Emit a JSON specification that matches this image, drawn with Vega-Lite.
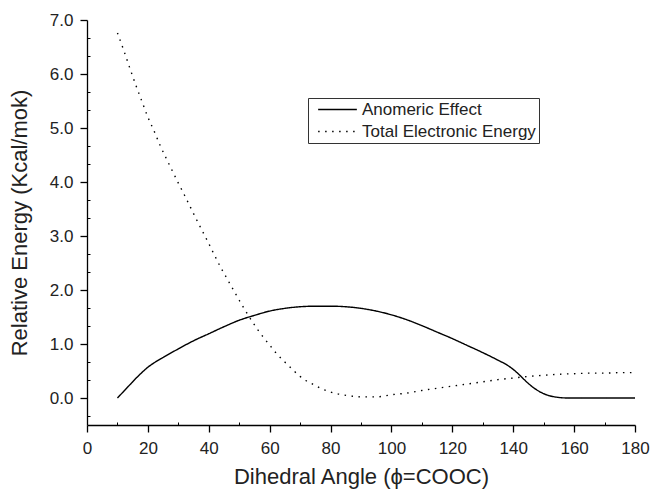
{
  "$schema": "https://vega.github.io/schema/vega-lite/v6.json",
  "width": 548,
  "height": 405,
  "autosize": {"type": "none"},
  "padding": {"left": 87, "top": 20, "right": 17, "bottom": 65},
  "background": "white",
  "config": {"view": {"stroke": null}, "font": "Liberation Sans"},
  "datasets": {
    "curves": [
      {"angle": 10, "energy": 0.00, "series": "Anomeric Effect"},
      {"angle": 12, "energy": 0.12, "series": "Anomeric Effect"},
      {"angle": 14, "energy": 0.24, "series": "Anomeric Effect"},
      {"angle": 16, "energy": 0.36, "series": "Anomeric Effect"},
      {"angle": 18, "energy": 0.47, "series": "Anomeric Effect"},
      {"angle": 20, "energy": 0.57, "series": "Anomeric Effect"},
      {"angle": 22, "energy": 0.65, "series": "Anomeric Effect"},
      {"angle": 25, "energy": 0.75, "series": "Anomeric Effect"},
      {"angle": 30, "energy": 0.91, "series": "Anomeric Effect"},
      {"angle": 35, "energy": 1.06, "series": "Anomeric Effect"},
      {"angle": 40, "energy": 1.19, "series": "Anomeric Effect"},
      {"angle": 45, "energy": 1.32, "series": "Anomeric Effect"},
      {"angle": 50, "energy": 1.44, "series": "Anomeric Effect"},
      {"angle": 55, "energy": 1.53, "series": "Anomeric Effect"},
      {"angle": 60, "energy": 1.61, "series": "Anomeric Effect"},
      {"angle": 65, "energy": 1.66, "series": "Anomeric Effect"},
      {"angle": 70, "energy": 1.69, "series": "Anomeric Effect"},
      {"angle": 75, "energy": 1.70, "series": "Anomeric Effect"},
      {"angle": 80, "energy": 1.70, "series": "Anomeric Effect"},
      {"angle": 85, "energy": 1.69, "series": "Anomeric Effect"},
      {"angle": 90, "energy": 1.66, "series": "Anomeric Effect"},
      {"angle": 95, "energy": 1.61, "series": "Anomeric Effect"},
      {"angle": 100, "energy": 1.54, "series": "Anomeric Effect"},
      {"angle": 105, "energy": 1.45, "series": "Anomeric Effect"},
      {"angle": 110, "energy": 1.34, "series": "Anomeric Effect"},
      {"angle": 115, "energy": 1.22, "series": "Anomeric Effect"},
      {"angle": 120, "energy": 1.10, "series": "Anomeric Effect"},
      {"angle": 125, "energy": 0.97, "series": "Anomeric Effect"},
      {"angle": 130, "energy": 0.84, "series": "Anomeric Effect"},
      {"angle": 135, "energy": 0.70, "series": "Anomeric Effect"},
      {"angle": 138, "energy": 0.61, "series": "Anomeric Effect"},
      {"angle": 140, "energy": 0.53, "series": "Anomeric Effect"},
      {"angle": 142, "energy": 0.43, "series": "Anomeric Effect"},
      {"angle": 144, "energy": 0.32, "series": "Anomeric Effect"},
      {"angle": 146, "energy": 0.22, "series": "Anomeric Effect"},
      {"angle": 148, "energy": 0.14, "series": "Anomeric Effect"},
      {"angle": 150, "energy": 0.08, "series": "Anomeric Effect"},
      {"angle": 152, "energy": 0.04, "series": "Anomeric Effect"},
      {"angle": 155, "energy": 0.01, "series": "Anomeric Effect"},
      {"angle": 158, "energy": 0.00, "series": "Anomeric Effect"},
      {"angle": 160, "energy": 0.00, "series": "Anomeric Effect"},
      {"angle": 170, "energy": 0.00, "series": "Anomeric Effect"},
      {"angle": 180, "energy": 0.00, "series": "Anomeric Effect"},
      {"angle": 10, "energy": 6.76, "series": "Total Electronic Energy"},
      {"angle": 12, "energy": 6.45, "series": "Total Electronic Energy"},
      {"angle": 14, "energy": 6.12, "series": "Total Electronic Energy"},
      {"angle": 16, "energy": 5.80, "series": "Total Electronic Energy"},
      {"angle": 18, "energy": 5.50, "series": "Total Electronic Energy"},
      {"angle": 20, "energy": 5.20, "series": "Total Electronic Energy"},
      {"angle": 22, "energy": 4.95, "series": "Total Electronic Energy"},
      {"angle": 24, "energy": 4.68, "series": "Total Electronic Energy"},
      {"angle": 26, "energy": 4.44, "series": "Total Electronic Energy"},
      {"angle": 28, "energy": 4.21, "series": "Total Electronic Energy"},
      {"angle": 30, "energy": 3.98, "series": "Total Electronic Energy"},
      {"angle": 32, "energy": 3.76, "series": "Total Electronic Energy"},
      {"angle": 34, "energy": 3.53, "series": "Total Electronic Energy"},
      {"angle": 36, "energy": 3.30, "series": "Total Electronic Energy"},
      {"angle": 38, "energy": 3.08, "series": "Total Electronic Energy"},
      {"angle": 40, "energy": 2.86, "series": "Total Electronic Energy"},
      {"angle": 42, "energy": 2.63, "series": "Total Electronic Energy"},
      {"angle": 44, "energy": 2.41, "series": "Total Electronic Energy"},
      {"angle": 46, "energy": 2.21, "series": "Total Electronic Energy"},
      {"angle": 48, "energy": 2.01, "series": "Total Electronic Energy"},
      {"angle": 50, "energy": 1.81, "series": "Total Electronic Energy"},
      {"angle": 52, "energy": 1.62, "series": "Total Electronic Energy"},
      {"angle": 54, "energy": 1.44, "series": "Total Electronic Energy"},
      {"angle": 56, "energy": 1.27, "series": "Total Electronic Energy"},
      {"angle": 58, "energy": 1.12, "series": "Total Electronic Energy"},
      {"angle": 60, "energy": 0.98, "series": "Total Electronic Energy"},
      {"angle": 62, "energy": 0.84, "series": "Total Electronic Energy"},
      {"angle": 64, "energy": 0.72, "series": "Total Electronic Energy"},
      {"angle": 66, "energy": 0.61, "series": "Total Electronic Energy"},
      {"angle": 68, "energy": 0.50, "series": "Total Electronic Energy"},
      {"angle": 70, "energy": 0.40, "series": "Total Electronic Energy"},
      {"angle": 72, "energy": 0.32, "series": "Total Electronic Energy"},
      {"angle": 74, "energy": 0.26, "series": "Total Electronic Energy"},
      {"angle": 76, "energy": 0.20, "series": "Total Electronic Energy"},
      {"angle": 78, "energy": 0.15, "series": "Total Electronic Energy"},
      {"angle": 80, "energy": 0.11, "series": "Total Electronic Energy"},
      {"angle": 82, "energy": 0.08, "series": "Total Electronic Energy"},
      {"angle": 84, "energy": 0.06, "series": "Total Electronic Energy"},
      {"angle": 86, "energy": 0.04, "series": "Total Electronic Energy"},
      {"angle": 88, "energy": 0.03, "series": "Total Electronic Energy"},
      {"angle": 90, "energy": 0.02, "series": "Total Electronic Energy"},
      {"angle": 92, "energy": 0.02, "series": "Total Electronic Energy"},
      {"angle": 95, "energy": 0.02, "series": "Total Electronic Energy"},
      {"angle": 98, "energy": 0.04, "series": "Total Electronic Energy"},
      {"angle": 100, "energy": 0.06, "series": "Total Electronic Energy"},
      {"angle": 105, "energy": 0.09, "series": "Total Electronic Energy"},
      {"angle": 110, "energy": 0.14, "series": "Total Electronic Energy"},
      {"angle": 115, "energy": 0.18, "series": "Total Electronic Energy"},
      {"angle": 120, "energy": 0.22, "series": "Total Electronic Energy"},
      {"angle": 125, "energy": 0.26, "series": "Total Electronic Energy"},
      {"angle": 130, "energy": 0.30, "series": "Total Electronic Energy"},
      {"angle": 135, "energy": 0.34, "series": "Total Electronic Energy"},
      {"angle": 140, "energy": 0.37, "series": "Total Electronic Energy"},
      {"angle": 145, "energy": 0.40, "series": "Total Electronic Energy"},
      {"angle": 150, "energy": 0.42, "series": "Total Electronic Energy"},
      {"angle": 155, "energy": 0.44, "series": "Total Electronic Energy"},
      {"angle": 160, "energy": 0.45, "series": "Total Electronic Energy"},
      {"angle": 165, "energy": 0.46, "series": "Total Electronic Energy"},
      {"angle": 170, "energy": 0.46, "series": "Total Electronic Energy"},
      {"angle": 175, "energy": 0.47, "series": "Total Electronic Energy"},
      {"angle": 180, "energy": 0.47, "series": "Total Electronic Energy"}
    ]
  },
  "data": {"name": "curves"},
  "layer": [
    {
      "mark": {"type": "line", "color": "black", "strokeWidth": 1.4, "interpolate": "monotone", "strokeCap": "butt"},
      "encoding": {
        "x": {
          "field": "angle", "type": "quantitative",
          "scale": {"domain": [0, 180], "nice": false, "zero": false},
          "axis": {
            "orient": "bottom",
            "values": [0, 20, 40, 60, 80, 100, 120, 140, 160, 180],
            "title": "Dihedral Angle (ϕ=COOC)",
            "titleFont": "Liberation Sans", "titleFontSize": 22, "titleFontWeight": "normal", "titleColor": "#222",
            "titlePadding": 10,
            "labelFont": "Liberation Sans", "labelFontSize": 17, "labelColor": "#222", "labelPadding": 8,
            "labelFlush": false, "labelOverlap": false,
            "domainColor": "black", "domainWidth": 1.3, "tickColor": "black", "tickWidth": 1.3, "tickSize": 7,
            "grid": false
          }
        },
        "y": {
          "field": "energy", "type": "quantitative",
          "scale": {"domain": [-0.5, 7], "nice": false, "zero": false},
          "axis": {
            "orient": "left",
            "values": [0, 1, 2, 3, 4, 5, 6, 7],
            "format": ".1f",
            "title": "Relative Energy (Kcal/mok)",
            "titleFont": "Liberation Sans", "titleFontSize": 22, "titleFontWeight": "normal", "titleColor": "#222",
            "titlePadding": 18,
            "labelFont": "Liberation Sans", "labelFontSize": 17, "labelColor": "#222", "labelPadding": 7,
            "labelFlush": false, "labelOverlap": false,
            "domainColor": "black", "domainWidth": 1.3, "tickColor": "black", "tickWidth": 1.3, "tickSize": 7,
            "grid": false
          }
        },
        "strokeDash": {
          "field": "series", "type": "nominal",
          "scale": {"domain": ["Anomeric Effect", "Total Electronic Energy"], "range": [[1, 0], [1.5, 5.5]]},
          "legend": {
            "orient": "none", "legendX": 221, "legendY": 78,
            "title": null,
            "strokeColor": "#333", "fillColor": "white",
            "padding": 3,
            "symbolType": "stroke", "symbolSize": 1500, "symbolStrokeWidth": 1.3, "symbolStrokeColor": "black",
            "symbolOffset": 6,
            "labelFont": "Liberation Sans", "labelFontSize": 17, "labelColor": "#222", "labelOffset": 4,
            "labelLimit": 400,
            "rowPadding": 4, "clipHeight": 17
          }
        }
      }
    },
    {
      "mark": {"type": "line", "opacity": 0},
      "encoding": {
        "x": {
          "field": "angle", "type": "quantitative",
          "axis": {
            "orient": "bottom",
            "offset": -3,
            "values": [10, 30, 50, 70, 90, 110, 130, 150, 170],
            "title": null, "labels": false, "domain": false, "grid": false,
            "tickColor": "black", "tickWidth": 1, "tickSize": 3
          }
        },
        "y": {
          "field": "energy", "type": "quantitative",
          "axis": {
            "orient": "left",
            "offset": -3,
            "values": [-0.3333, 0.3333, 0.6667, 1.3333, 1.6667, 2.3333, 2.6667, 3.3333, 3.6667, 4.3333, 4.6667, 5.3333, 5.6667, 6.3333, 6.6667],
            "title": null, "labels": false, "domain": false, "grid": false,
            "tickColor": "black", "tickWidth": 1, "tickSize": 3
          }
        },
        "detail": {"field": "series"}
      }
    }
  ],
  "resolve": {"axis": {"x": "independent", "y": "independent"}}
}
